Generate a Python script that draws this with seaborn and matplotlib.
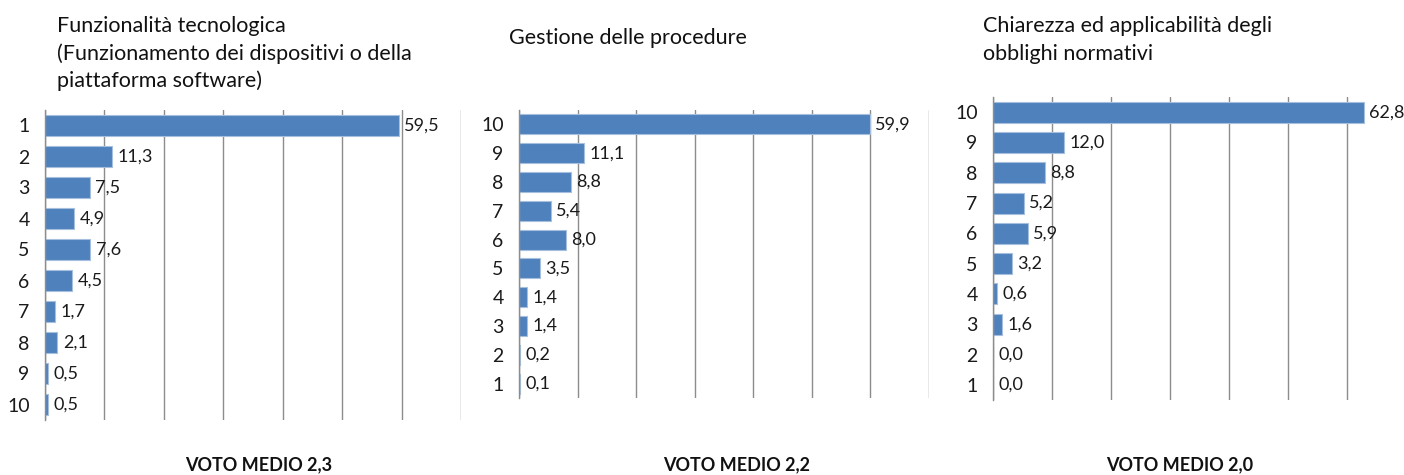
import numpy as np
import pandas as pd
import seaborn as sns
import matplotlib.pyplot as plt

# Data (percent of answers per score)
titles = [
    'Funzionalità tecnologica\n(Funzionamento dei dispositivi o della\npiattaforma software)',
    'Gestione delle procedure',
    'Chiarezza ed applicabilità degli\nobblighi normativi',
]
voto_medio = ['2,3', '2,2', '2,0']

cat_p1 = ['1', '2', '3', '4', '5', '6', '7', '8', '9', '10']
val_p1 = [59.5, 11.3, 7.5, 4.9, 7.6, 4.5, 1.7, 2.1, 0.5, 0.5]

cat_p2 = ['10', '9', '8', '7', '6', '5', '4', '3', '2', '1']
val_p2 = [59.9, 11.1, 8.8, 5.4, 8.0, 3.5, 1.4, 1.4, 0.2, 0.1]

cat_p3 = ['10', '9', '8', '7', '6', '5', '4', '3', '2', '1']
val_p3 = [62.8, 12.0, 8.8, 5.2, 5.9, 3.2, 0.6, 1.6, 0.0, 0.0]

sns.set_style('white')
plt.rcParams['font.family'] = ['Lato', 'DejaVu Sans']

W, H = 1404, 475
fig = plt.figure(figsize=(W / 100, H / 100), dpi=100)

# axes boxes in pixels: left, right, top, bottom
boxes = [(45, 461, 110, 420), (519, 929, 110, 398), (993, 1406, 97, 400)]
# title x and baseline of first line, in pixels
title_pos = [(57, 32), (509, 44), (983, 32)]
line_gap = 27.5
label_x = [259, 737, 1180]

panels = [(cat_p1, val_p1), (cat_p2, val_p2), (cat_p3, val_p3)]
bar_color = '#4F81BD'
grid_color = '#8C8C8C'

for i, (cats, vals) in enumerate(panels):
    l, r, t, b = boxes[i]
    ax = fig.add_axes([l / W, (H - b) / H, (r - l) / W, (b - t) / H])
    df = pd.DataFrame({'voto': cats, 'perc': vals})
    sns.barplot(data=df, x='perc', y='voto', order=cats, orient='h',
                color=bar_color, saturation=1, width=0.69,
                edgecolor='#A7BFDE', linewidth=0.8, ax=ax)
    ax.set_xlim(0, 70)
    ax.set_ylim(9.5, -0.5)
    ax.set_xticks(np.arange(0, 71, 10))
    ax.set_xticklabels([])
    ax.tick_params(axis='x', length=0)
    ax.grid(axis='x', color=grid_color, linewidth=1)
    ax.set_axisbelow(True)
    ax.set_xlabel('')
    ax.set_ylabel('')
    ax.set_yticks(np.arange(-0.5, 10, 1), minor=True)
    ax.tick_params(axis='y', which='major', length=0, pad=11, labelsize=14,
                   labelcolor='#1a1a1a')
    ax.tick_params(axis='y', which='minor', length=5, width=1, color=grid_color)
    for s in ['top', 'right', 'bottom']:
        ax.spines[s].set_visible(False)
    ax.spines['left'].set_color(grid_color)
    ax.spines['left'].set_linewidth(1)
    labels = [f'{v:.1f}'.replace('.', ',') for v in vals]
    ax.bar_label(ax.containers[0], labels=labels, padding=4, fontsize=13,
                 color='#1a1a1a')

    tx, ty = title_pos[i]
    for k, line in enumerate(titles[i].split('\n')):
        fig.text(tx / W, 1 - (ty + k * line_gap) / H, line, ha='left',
                 va='baseline', fontsize=15.5, color='#111111')
    fig.text(label_x[i] / W, 1 - 465 / H, f'VOTO MEDIO {voto_medio[i]}',
             ha='center', va='center', fontsize=13, fontweight='bold',
             color='#111111')

fig.savefig('out.png', dpi=100)
